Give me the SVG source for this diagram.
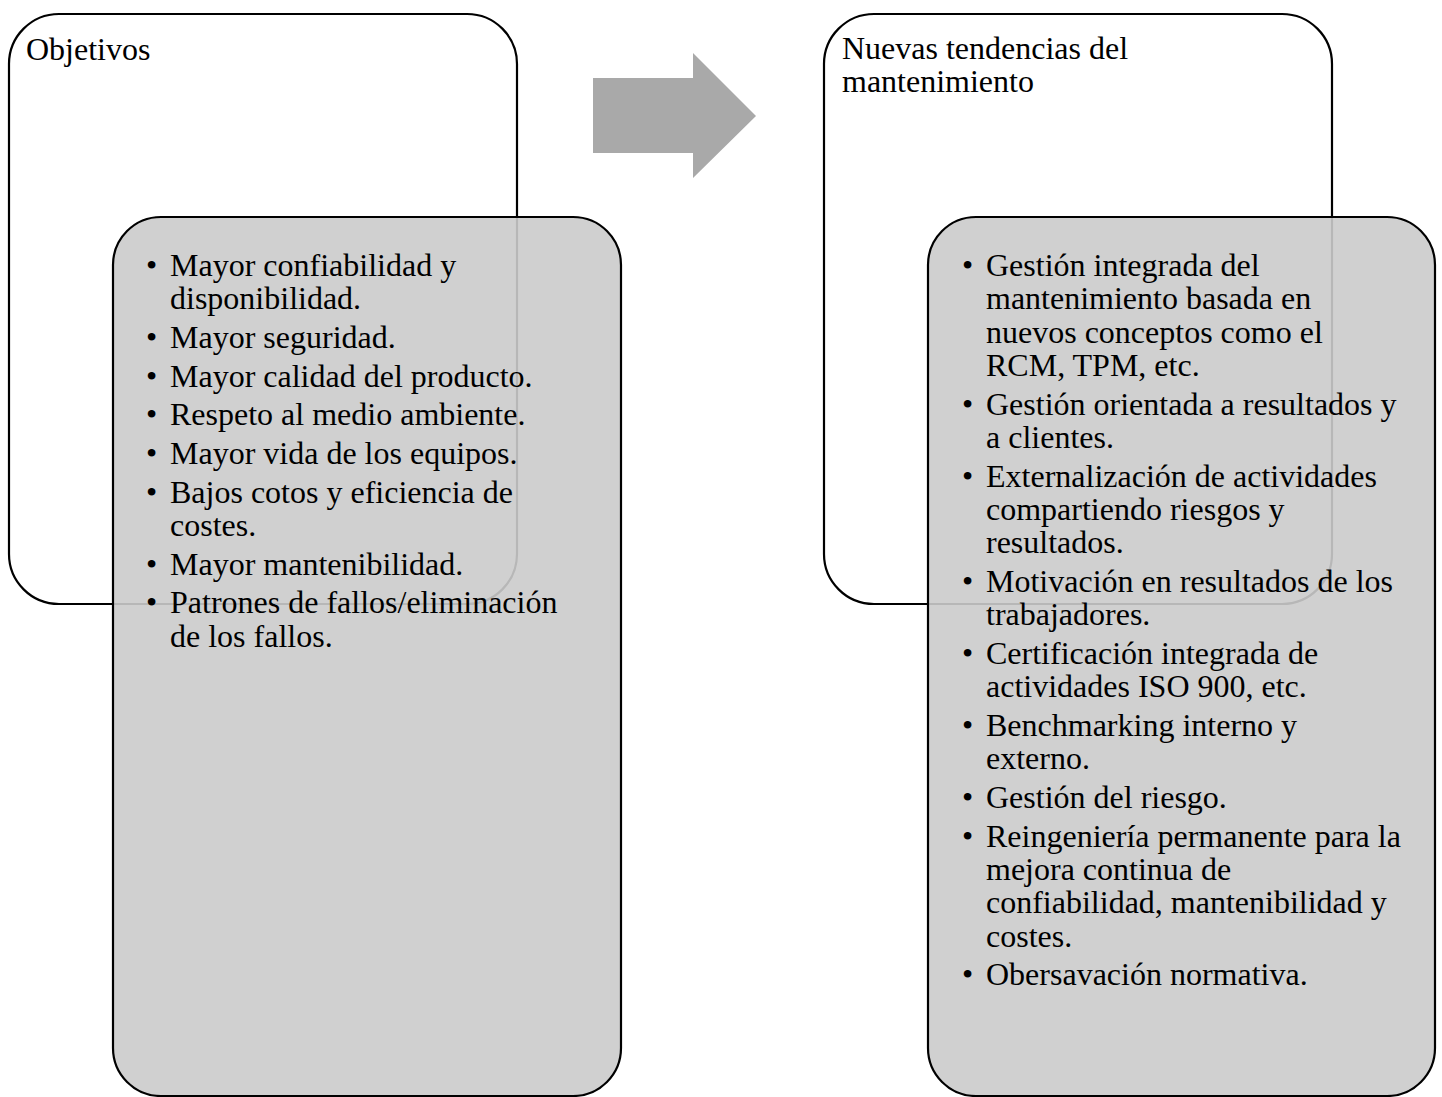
<svg xmlns="http://www.w3.org/2000/svg" width="1442" height="1097" viewBox="0 0 1442 1097">
  <style>
    .frame { fill: #ffffff; stroke: #000000; stroke-width: 2.2; }
    .card { fill: #cbcbcb; fill-opacity: 0.9; stroke: #000000; stroke-width: 2.2; }
    .arrow { fill: #a9a9a9; }
    text { font-family: "Liberation Serif", "Times New Roman", serif; font-size: 32px; fill: #000000; }
  </style>

  <rect width="1442" height="1097" fill="#ffffff"/>

  <!-- Left column: objectives -->
  <g id="objetivos">
    <rect class="frame" x="9" y="14" width="508" height="590" rx="50" ry="50"/>
    <text x="26" y="60">Objetivos</text>
  </g>
  <g id="objetivos-lista">
    <rect class="card" x="113" y="217" width="508" height="879" rx="48" ry="48"/>
    <g>
      <text x="146" y="276">•</text><text x="170" y="276">Mayor confiabilidad y<tspan x="170" dy="33.3">disponibilidad.</tspan></text>
      <text x="146" y="348">•</text><text x="170" y="348">Mayor seguridad.</text>
      <text x="146" y="386.7">•</text><text x="170" y="386.7">Mayor calidad del producto.</text>
      <text x="146" y="425.3">•</text><text x="170" y="425.3">Respeto al medio ambiente.</text>
      <text x="146" y="464">•</text><text x="170" y="464">Mayor vida de los equipos.</text>
      <text x="146" y="502.7">•</text><text x="170" y="502.7">Bajos cotos y eficiencia de<tspan x="170" dy="33.3">costes.</tspan></text>
      <text x="146" y="574.7">•</text><text x="170" y="574.7">Mayor mantenibilidad.</text>
      <text x="146" y="613.3">•</text><text x="170" y="613.3">Patrones de fallos/eliminación<tspan x="170" dy="33.3">de los fallos.</tspan></text>
    </g>
  </g>

  <!-- Connector between the two columns -->
  <g id="conectores">
    <polygon class="arrow" points="593,78 693,78 693,53 756,116 693,178 693,153 593,153"/>
  </g>

  <!-- Right column: new maintenance trends -->
  <g id="tendencias">
    <rect class="frame" x="824" y="14" width="508" height="590" rx="50" ry="50"/>
    <text x="842" y="59">Nuevas tendencias del<tspan x="842" dy="33.3">mantenimiento</tspan></text>
  </g>
  <g id="tendencias-lista">
    <rect class="card" x="928" y="217" width="507" height="879" rx="48" ry="48"/>
    <g>
      <text x="962" y="276">•</text><text x="986" y="276">Gestión integrada del<tspan x="986" dy="33.3">mantenimiento basada en</tspan><tspan x="986" dy="33.3">nuevos conceptos como el</tspan><tspan x="986" dy="33.3">RCM, TPM, etc.</tspan></text>
      <text x="962" y="414.7">•</text><text x="986" y="414.7">Gestión orientada a resultados y<tspan x="986" dy="33.3">a clientes.</tspan></text>
      <text x="962" y="486.7">•</text><text x="986" y="486.7">Externalización de actividades<tspan x="986" dy="33.3">compartiendo riesgos y</tspan><tspan x="986" dy="33.3">resultados.</tspan></text>
      <text x="962" y="592">•</text><text x="986" y="592">Motivación en resultados de los<tspan x="986" dy="33.3">trabajadores.</tspan></text>
      <text x="962" y="664">•</text><text x="986" y="664">Certificación integrada de<tspan x="986" dy="33.3">actividades ISO 900, etc.</tspan></text>
      <text x="962" y="736">•</text><text x="986" y="736">Benchmarking interno y<tspan x="986" dy="33.3">externo.</tspan></text>
      <text x="962" y="808">•</text><text x="986" y="808">Gestión del riesgo.</text>
      <text x="962" y="846.7">•</text><text x="986" y="846.7">Reingeniería permanente para la<tspan x="986" dy="33.3">mejora continua de</tspan><tspan x="986" dy="33.3">confiabilidad, mantenibilidad y</tspan><tspan x="986" dy="33.3">costes.</tspan></text>
      <text x="962" y="985.4">•</text><text x="986" y="985.4">Obersavación normativa.</text>
    </g>
  </g>
</svg>
